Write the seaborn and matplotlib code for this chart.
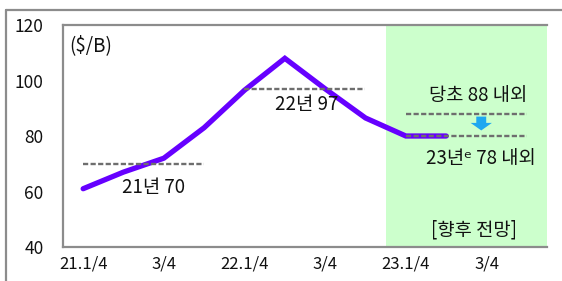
import numpy as np
import pandas as pd
import matplotlib
matplotlib.use("Agg")
import matplotlib.pyplot as plt
from matplotlib.lines import Line2D
import seaborn as sns

# Quarterly Dubai oil price ($/B), 21.1/4 ~ 23.4/4
quarters = ["21.1/4", "21.2/4", "21.3/4", "21.4/4",
            "22.1/4", "22.2/4", "22.3/4", "22.4/4",
            "23.1/4", "23.2/4", "23.3/4", "23.4/4"]
tick_labels = ["21.1/4", "3/4", "22.1/4", "3/4", "23.1/4", "3/4"]
price = [61, 67, 72, 83, 96.5, 108, 97, 86.5, 80, 80]

# yearly average reference lines (start quarter, end quarter, value)
ref_start = [0, 4, 8, 8]
ref_end = [3, 7, 11, 11]
ref_value = [70, 97, 88, 80]

forecast_from = 7.5

sns.set_style("white")
plt.rcParams["font.family"] = ["Noto Sans CJK KR", "DejaVu Sans"]

df = pd.DataFrame({"q": np.arange(len(price)), "price": price})

fig = plt.figure(figsize=(5.62, 2.81), dpi=100)
ax = fig.add_axes([0.1121, 0.121, 0.8612, 0.790])

ax.axvspan(forecast_from, 11.5, color="#CCFFCC", zorder=0, lw=0)

sns.lineplot(data=df, x="q", y="price", ax=ax, color="#6600FF", lw=3.8,
             zorder=3, solid_joinstyle="miter")

for s, e, v in zip(ref_start, ref_end, ref_value):
    ax.hlines(v, s, e, colors="#6E6E6E", linestyles=(0, (2.2, 1.0)),
              lw=1.7, zorder=4)

ax.set_xlim(-0.5, 11.5)
ax.set_ylim(40, 120)
ax.set_yticks([40, 60, 80, 100, 120])
ax.set_xticks(np.arange(0, 12, 2))
ax.set_xticklabels(tick_labels)
ax.set_xlabel("")
ax.set_ylabel("")
ax.tick_params(axis="y", length=0, pad=14, labelsize=12.5, colors="#111111")
ax.tick_params(axis="x", length=0, pad=6, labelsize=12, colors="#111111")

for side in ["left", "bottom", "top"]:
    ax.spines[side].set_color("#8C8C8C")
    ax.spines[side].set_linewidth(1.6)
ax.spines["right"].set_visible(False)

tk = dict(fontsize=13.5, color="#111111")
ax.text(0.012, 0.905, "($/B)", transform=ax.transAxes, va="center", ha="left", **tk)
ax.text(1.75, 61.5, "21년 70", ha="center", va="center", **tk)
ax.text(5.55, 91.5, "22년 97", ha="center", va="center", **tk)
ax.text(9.8, 94.5, "당초 88 내외", ha="center", va="center", **tk)
ax.text(9.85, 72, "23년ᵉ 78 내외", ha="center", va="center", **tk)
ax.text(9.7, 46, "[향후 전망]", ha="center", va="center", **tk)

ax.annotate("", xy=(9.87, 82.0), xytext=(9.87, 87.0),
            arrowprops=dict(arrowstyle="simple,head_width=0.9,head_length=0.32,tail_width=0.42",
                            mutation_scale=17, color="#1EA8F0", lw=0,
                            shrinkA=0, shrinkB=0), zorder=5)

# outer frame
fig.add_artist(Line2D([0.0107, 1.0], [0.964, 0.964], color="#8C8C8C", lw=1.6,
                      transform=fig.transFigure))
fig.add_artist(Line2D([0.0107, 0.0107], [0.0, 0.964], color="#8C8C8C", lw=1.6,
                      transform=fig.transFigure))

fig.savefig("out.png", dpi=100)
